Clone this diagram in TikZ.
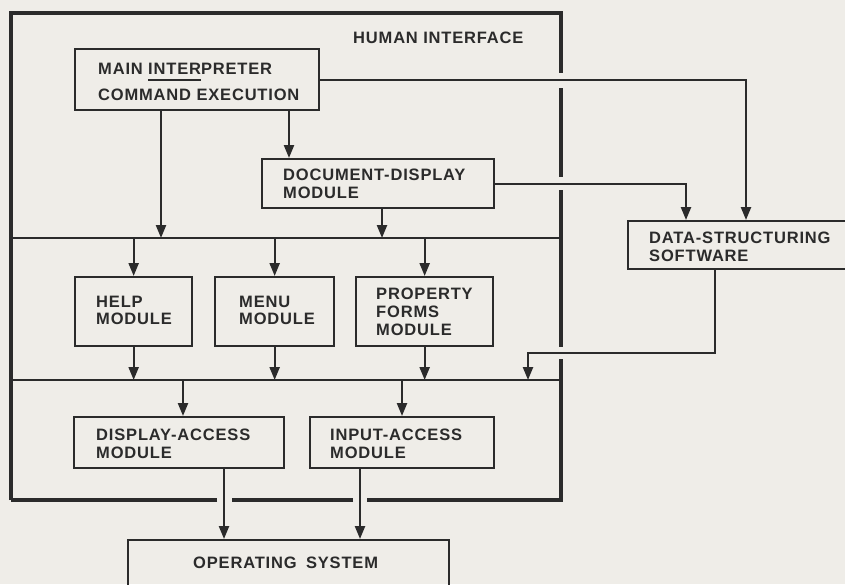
\documentclass[tikz,border=0pt]{standalone}
\usepackage{fontspec}
\setmainfont{Liberation Sans}[LetterSpace=5]
\usetikzlibrary{arrows.meta}
\definecolor{paper}{HTML}{EFEDE8}
\definecolor{ink}{HTML}{2B2B2B}
\newcommand\ulin[1]{\setbox0\hbox{#1}\rlap{\rule[-7pt]{\wd0}{1.8pt}}\box0}
\newcommand\blines[2]{\vtop{\baselineskip=#1\lineskiplimit=-20pt #2}}
\begin{document}
\begin{tikzpicture}[x=1pt,y=-1pt,
  txt/.style={font=\fontsize{16.5}{18}\selectfont\bfseries, text=ink, inner sep=0pt, anchor=base west},
  box/.style={draw=ink, line width=2.3pt, anchor=north west, inner sep=0pt},
  arr/.style={draw=ink, line width=2.3pt, -{Triangle[width=10pt,length=13pt]}},
  frm/.style={draw=ink, line width=3.2pt},
  bus/.style={draw=ink, line width=2.3pt}]
\useasboundingbox (0,0) rectangle (845,584);
\clip (0,0) rectangle (845,584);
\fill[paper] (0,0) rectangle (845,584);

% outer frame (with gaps where connectors cross)
\draw[frm] (11,500) -- (11,13) -- (561,13) -- (561,73);
\draw[frm] (561,88) -- (561,177);
\draw[frm] (561,190) -- (561,347);
\draw[frm] (561,359) -- (561,500) -- (367,500);
\draw[frm] (353,500) -- (232,500);
\draw[frm] (217,500) -- (11,500);
% bus lines
\coordinate (bus1) at (11,238);
\coordinate (bus1e) at (561,238);
\coordinate (bus2) at (11,380);
\coordinate (bus2e) at (561,380);
\draw[bus] (bus1) -- (bus1e);
\draw[bus] (bus2) -- (bus2e);

% boxes
\node[box, minimum width=244, minimum height=61] (main) at (74,48) {};
\node[box, minimum width=232, minimum height=49] (doc) at (261,158) {};
\node[box, minimum width=230, minimum height=48] (dss) at (627,220) {};
\node[box, minimum width=117, minimum height=69] (help) at (74,276) {};
\node[box, minimum width=119, minimum height=69] (menu) at (214,276) {};
\node[box, minimum width=137, minimum height=69] (prop) at (355,276) {};
\node[box, minimum width=210, minimum height=51] (disp) at (73,416) {};
\node[box, minimum width=184, minimum height=51] (inp) at (309,416) {};
\node[box, minimum width=321, minimum height=80] (os) at (127,539) {};

% texts
\node[txt] (hiT) at (353,43) {HUMAN INTERFACE};
\node[txt] (mainT) at (98,74) {\blines{26pt}{\hbox{MAIN \ulin{INTER}PRETER}\hbox{COMMAND EXECUTION}}};
\node[txt] (docT) at (283,180) {\blines{18pt}{\hbox{DOCUMENT-DISPLAY}\hbox{MODULE}}};
\node[txt] (dssT) at (649,243) {\blines{18pt}{\hbox{DATA-STRUCTURING}\hbox{SOFTWARE}}};
\node[txt] (helpT) at (96,307) {\blines{17pt}{\hbox{HELP}\hbox{MODULE}}};
\node[txt] (menuT) at (239,307) {\blines{17pt}{\hbox{MENU}\hbox{MODULE}}};
\node[txt] (propT) at (376,299) {\blines{18pt}{\hbox{PROPERTY}\hbox{FORMS}\hbox{MODULE}}};
\node[txt] (dispT) at (96,440) {\blines{18pt}{\hbox{DISPLAY-ACCESS}\hbox{MODULE}}};
\node[txt] (inpT) at (330,440) {\blines{18pt}{\hbox{INPUT-ACCESS}\hbox{MODULE}}};
\node[txt] (osT) at (193,568) {OPERATING\hspace{4pt} SYSTEM};

% connection points
\coordinate (mA) at ([xshift=87pt]main.south west);
\coordinate (mB) at ([xshift=215pt]main.south west);
\coordinate (dA) at ([xshift=121pt]doc.south west);
\coordinate (sA) at ([xshift=59pt]dss.north west);
\coordinate (sB) at ([xshift=119pt]dss.north west);
\coordinate (sC) at ([xshift=88pt]dss.south west);
\coordinate (tapD) at (528,353);
\coordinate (dispIn) at ([xshift=110pt]disp.north west);
\coordinate (dispOut) at ([xshift=151pt]disp.south west);
\coordinate (inpIn) at ([xshift=93pt]inp.north west);
\coordinate (inpOut) at ([xshift=51pt]inp.south west);

% connectors
\draw[arr] (main.east) -| (sB);
\draw[arr] (mA) -- (mA |- bus1);
\draw[arr] (mB) -- (mB |- doc.north);
\draw[arr] (doc.east) -| (sA);
\draw[arr] (dA) -- (dA |- bus1);
\draw[arr] (help.north |- bus1) -- (help.north);
\draw[arr] (menu.north |- bus1) -- (menu.north);
\draw[arr] (prop.north |- bus1) -- (prop.north);
\draw[arr] (help.south) -- (help.south |- bus2);
\draw[arr] (menu.south) -- (menu.south |- bus2);
\draw[arr] (prop.south) -- (prop.south |- bus2);
\draw[arr] (sC) |- (tapD) -- (tapD |- bus2);
\draw[arr] (dispIn |- bus2) -- (dispIn);
\draw[arr] (inpIn |- bus2) -- (inpIn);
\draw[arr] (dispOut) -- (dispOut |- os.north);
\draw[arr] (inpOut) -- (inpOut |- os.north);
\end{tikzpicture}
\end{document}
